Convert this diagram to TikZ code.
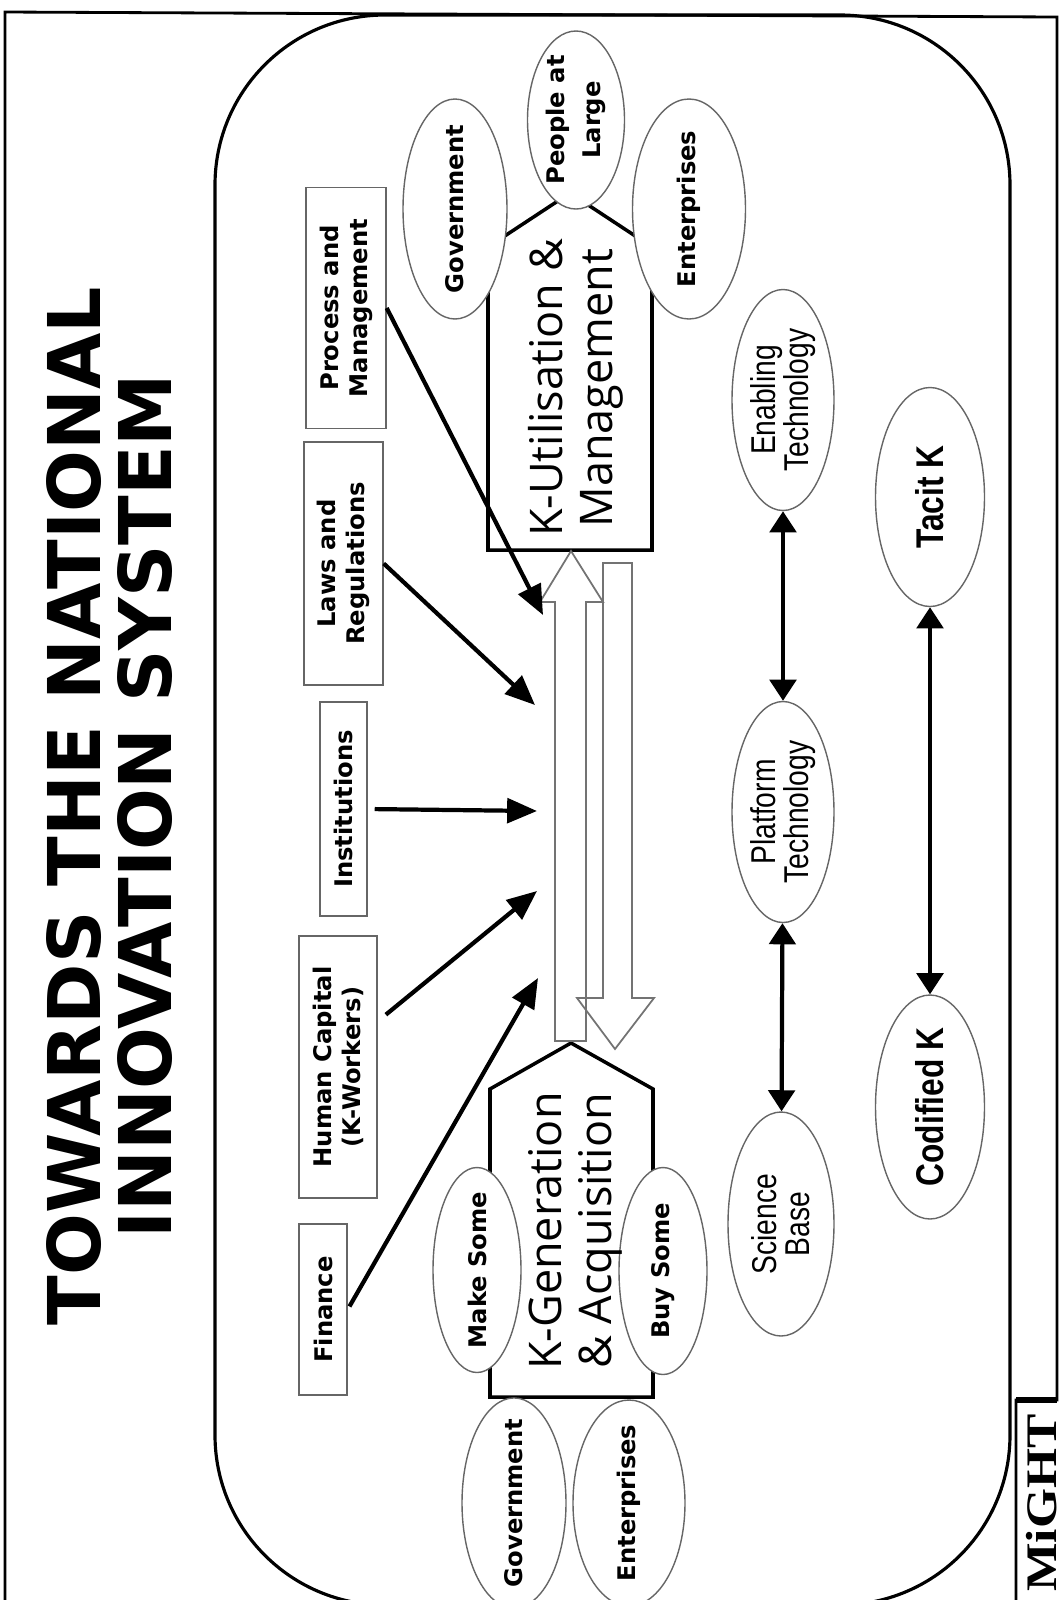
\documentclass[tikz,border=0pt]{standalone}
\usepackage{fontspec}
\setmainfont{DejaVu Sans}
\newfontfamily\kfont{Open Sans}
\newfontfamily\narrowfont[FakeStretch=0.82]{Liberation Sans}
\newfontfamily\logofont[FakeStretch=1.18]{Liberation Serif}
\usetikzlibrary{shapes.geometric,arrows.meta}

\tikzset{
  lbl/.style={font=\bfseries\fontsize{6.9}{8.3}\selectfont, align=center, inner sep=0pt},
  txtbox/.style={lbl, draw=black!60, rotate=90},
  oval/.style={ellipse, lbl, inner xsep=-1mm, draw=black!60, fill=white, rotate=90},
  techoval/.style={ellipse, draw=black!60, rotate=90, inner sep=0pt, inner xsep=-1mm, align=center, font=\narrowfont\fontsize{9.8}{9.4}\selectfont},
  koval/.style={techoval, font=\narrowfont\bfseries\fontsize{11}{11}\selectfont},
  house/.style={draw, line width=1pt, line join=miter},
  housetext/.style={font=\kfont\fontsize{12.8}{14.2}\selectfont, align=center, inner sep=0pt, rotate=90},
  hollow/.style={draw=black!55, line width=0.5pt},
  feed/.style={-{Triangle[length=8.5pt,width=7pt]}, line width=1.2pt},
  link/.style={{Triangle[length=6pt,width=7.5pt]}-{Triangle[length=6pt,width=7.5pt]}, line width=1.2pt},
}

\begin{document}
\begin{tikzpicture}[x=0.1mm, y=-0.1mm]
\useasboundingbox (0,0) rectangle (1064,1600);
% page frame and logo
\draw[line width=0.8pt] (1016,1600) -- (1016,1400) -- (1057,1400) -- (1057,17) -- (5,12) -- (5,1600);
\draw[line width=1.6pt] (1016,1400) -- (1057,1400);
\node[rotate=90, inner sep=0pt, font=\logofont\bfseries\fontsize{12.4}{12.4}\selectfont] (logo) at (1042,1503) {MiGHT};
% slide outline
\draw[line width=0.9pt, rounded corners=17mm] (215,15) rectangle (1010,1605);
% title
\node[rotate=90, inner sep=0pt, align=center, font=\bfseries\fontsize{20.7}{20.2}\selectfont] (title) at (110,806) {TOWARDS THE NATIONAL\\INNOVATION SYSTEM};

% the two K boxes
\draw[house] (488,550) -- (652,550) -- (652,247) -- (570,193) -- (488,247) -- cycle;
\draw[house] (490,1397) -- (653,1397) -- (653,1089) -- (571,1043) -- (490,1089) -- cycle;

% hollow arrows between them
\draw[hollow] (555,1041) -- (555,602) -- (540,602) -- (571,551) -- (603,602) -- (586,602) -- (586,1041) -- cycle;
\draw[hollow] (586,602) rectangle (603,998);
\draw[hollow] (603,563) -- (632,563) -- (632,998) -- (654,998) -- (615,1049) -- (577,998) -- (603,998) -- cycle;

% actors round the K boxes
\node[oval, minimum width=22mm, minimum height=10.4mm] (gov1) at (455,209) {Government};
\node[oval, minimum width=17.8mm, minimum height=9.7mm, font=\bfseries\fontsize{6.9}{10.2}\selectfont] (people) at (576,120) {People at\\Large};
\node[oval, minimum width=22mm, minimum height=11.3mm] (ent1) at (689,209) {Enterprises};
\node[oval, minimum width=20.5mm, minimum height=8.8mm] (make) at (477,1270) {Make Some};
\node[oval, minimum width=20.7mm, minimum height=8.8mm] (buy) at (663,1271) {Buy Some};
\node[oval, minimum width=20.6mm, minimum height=10.4mm] (gov2) at (514,1503) {Government};
\node[oval, minimum width=20.6mm, minimum height=11.2mm] (ent2) at (629,1503) {Enterprises};

\node[housetext] (kutil) at (576,388) {K-Utilisation \&\\Management};
\node[housetext] (kgen) at (575,1231) {K-Generation\\\& Acquisition};

% framework conditions
\node[txtbox, minimum width=24.1mm, minimum height=8mm] (proc) at (346,308) {Process and\\Management};
\node[txtbox, minimum width=24.3mm, minimum height=7.9mm] (laws) at (343.5,563.5) {Laws and\\Regulations};
\node[txtbox, minimum width=21.4mm, minimum height=4.7mm] (inst) at (343.5,809) {Institutions};
\node[txtbox, minimum width=26.2mm, minimum height=7.8mm] (hcap) at (338,1067) {Human Capital\\(K-Workers)};
\node[txtbox, minimum width=17.1mm, minimum height=4.8mm] (fin) at (323,1309.5) {Finance};

\coordinate (t1) at (543,615);
\coordinate (t2) at (535,705);
\coordinate (t3) at (537,811);
\coordinate (t4) at (537,891);
\coordinate (t5) at (538,978);
\draw[feed] (proc.south) -- (t1);
\draw[feed] (laws.south) -- (t2);
\draw[feed, shorten <=2pt] (inst.south) -- (t3);
\draw[feed, shorten <=3pt] (hcap.-41) -- (t4);
\draw[feed, shorten <=1pt] (fin.south) -- (t5);

% technology and knowledge pairs
\node[techoval, minimum width=22.1mm, minimum height=10.2mm] (enab) at (783,400) {Enabling\\Technology};
\node[techoval, minimum width=22.1mm, minimum height=10.2mm] (plat) at (783,812) {Platform\\Technology};
\node[techoval, minimum width=22.4mm, minimum height=10.6mm] (sci) at (781,1224) {Science\\Base};
\node[koval, minimum width=21.9mm, minimum height=10.9mm] (tacit) at (930,497) {Tacit K};
\node[koval, minimum width=22.4mm, minimum height=10.9mm] (cod) at (930,1107) {Codified K};
\draw[link] (enab) -- (plat);
\draw[link] (plat) -- (sci);
\draw[link] (tacit) -- (cod);
\end{tikzpicture}
\end{document}
